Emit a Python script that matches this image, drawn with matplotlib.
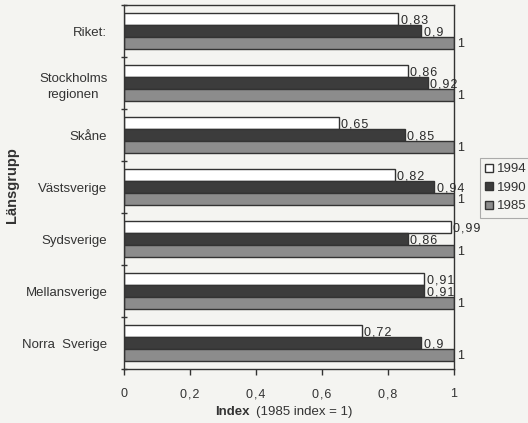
import numpy as np
import matplotlib
matplotlib.use('Agg')
import matplotlib.pyplot as plt

plt.rcParams['font.family'] = ['Liberation Sans', 'DejaVu Sans']

# Länsgrupper, uppifrån och ned
grupper = ['Riket:', 'Stockholms\nregionen', 'Skåne', 'Västsverige',
           'Sydsverige', 'Mellansverige', 'Norra  Sverige']
index_1994 = [0.83, 0.86, 0.65, 0.82, 0.99, 0.91, 0.72]
index_1990 = [0.9, 0.92, 0.85, 0.94, 0.86, 0.91, 0.9]
index_1985 = [1, 1, 1, 1, 1, 1, 1]
ar = ['1994', '1990', '1985']
xticks = [0, 0.2, 0.4, 0.6, 0.8, 1.0]
xtick_etiketter = ['0', '0,2', '0,4', '0,6', '0,8', '1']

bakgrund = '#f4f4f1'
kant = '#333333'
textfarg = '#333333'


def glest(s):
    # luftigare teckenavstånd för siffror
    return '\u200a'.join(s)


fig = plt.figure(figsize=(5.28, 4.23), dpi=100, facecolor=bakgrund)
ax = fig.add_axes([124/528, 1 - 369/423, 330/528, 364/423], facecolor=bakgrund)

y = np.arange(len(grupper))
h = 0.225
serier = [
    (index_1994, -h, 'white'),
    (index_1990, 0.0, '#3c3c3c'),
    (index_1985, h, '#8c8c8c'),
]
staplar = []
for (varden, dy, farg), namn in zip(serier, ar):
    b = ax.barh(y + dy, varden, height=h, color=farg, edgecolor=kant,
                linewidth=1.0, label=namn)
    staplar.append(b)
    for yi, v in zip(y, varden):
        txt = glest(f'{v:g}'.replace('.', ','))
        ax.text(v + 0.008, yi + dy + 0.02, txt, ha='left', va='center',
                fontsize=9, color='#2a2a2a')

ax.set_xlim(0, 1)
ax.set_ylim(len(grupper) - 0.5, -0.5)

ax.set_xticks(xticks)
ax.set_xticklabels([glest(t) for t in xtick_etiketter], fontsize=9, color=textfarg)
ax.tick_params(axis='x', direction='out', length=4, width=1, color=kant, pad=10)

ax.set_yticks(y)
ax.set_yticklabels(grupper, fontsize=9.5, color=textfarg,
                   multialignment='center', linespacing=1.5)
ax.tick_params(axis='y', length=0, pad=12)
ax.set_yticks(np.arange(-0.5, len(grupper)), minor=True)
ax.tick_params(axis='y', which='minor', direction='inout', length=4, width=1, color=kant)

for s in ax.spines.values():
    s.set_color(kant)
    s.set_linewidth(1.0)

fig.text(12/528, 1 - 185/423, 'Länsgrupp', rotation=90, ha='center', va='center',
         fontsize=10.5, fontweight='bold', color=textfarg)
fig.text(250/528, 1 - 412/423, 'Index', ha='right', va='center',
         fontsize=9.5, fontweight='bold', color=textfarg)
fig.text(256/528, 1 - 412/423, '(1985 index = 1)', ha='left', va='center',
         fontsize=9.5, color=textfarg)

leg = ax.legend(handles=staplar, labels=ar, loc='upper left',
                bbox_to_anchor=(480/528, 1 - 158/423), bbox_transform=fig.transFigure,
                fontsize=9.5, frameon=True, fancybox=False, borderaxespad=0,
                handlelength=0.55, handleheight=0.55, handletextpad=0.3,
                labelspacing=0.5, borderpad=0.4)
leg.get_frame().set_edgecolor('#999999')
leg.get_frame().set_facecolor(bakgrund)
leg.get_frame().set_linewidth(0.8)
for t in leg.get_texts():
    t.set_color(textfarg)

fig.savefig('out.png', dpi=100, facecolor=bakgrund)
